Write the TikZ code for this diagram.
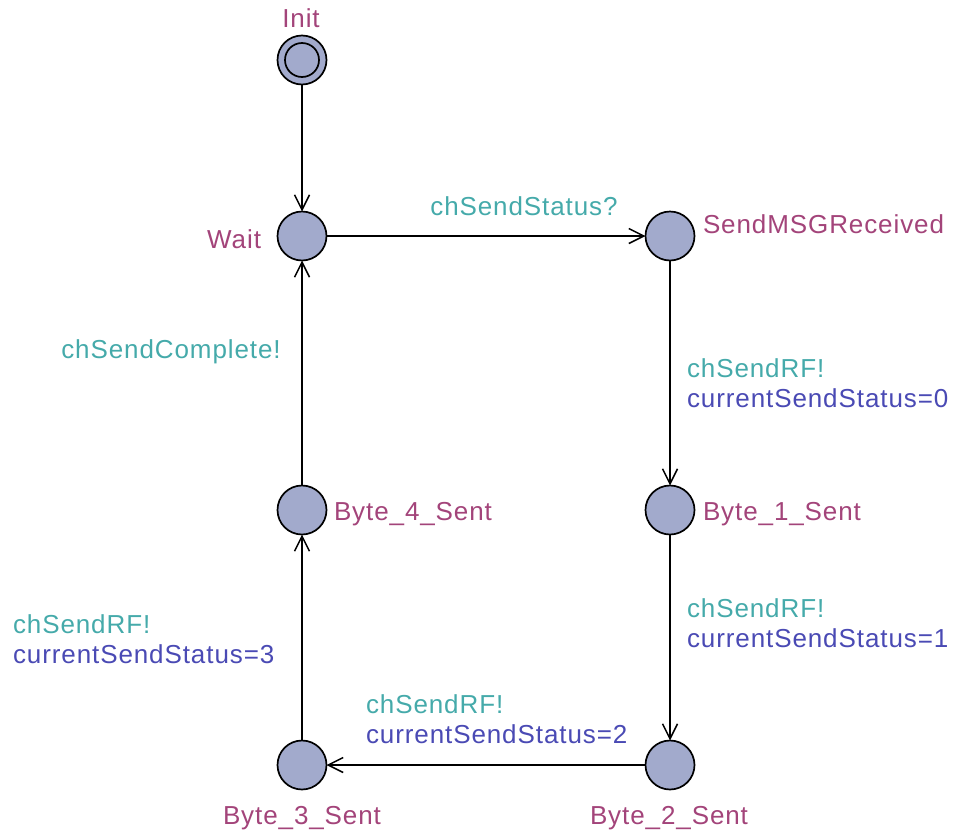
\documentclass[tikz,border=0pt]{standalone}
\usepackage{fontspec}
\setmainfont{Liberation Sans}
\usetikzlibrary{arrows.meta}
\definecolor{locname}{HTML}{A3447A}
\definecolor{syncol}{HTML}{45AAAA}
\definecolor{assigncol}{HTML}{4A4AB4}
\definecolor{locfill}{HTML}{A2AACC}
\newfontfamily\lblfont[LetterSpace=3.5]{Liberation Sans}
\begin{document}
\begin{tikzpicture}[x=1pt,y=-1pt,
  loc/.style={circle,draw=black,line width=1.7pt,fill=locfill,minimum size=49pt,inner sep=0pt,outer sep=0pt},
  initloc/.style={loc,path picture={\draw[line width=1.7pt] (path picture bounding box.center) circle (17pt);}},
  edge/.style={line width=1.6pt,-{Straight Barb[length=15pt,width=15pt,line width=1.5pt]}},
  txt/.style={inner sep=0pt,outer sep=0pt,font=\lblfont\fontsize{26}{30}\selectfont},
  lname/.style={txt,text=locname},
  sync/.style={txt,text=syncol},
  assign/.style={txt,text=assigncol}]
\useasboundingbox (0,0) rectangle (953,833);

% locations
\node[initloc] (init) at (302,60) {};
\node[loc] (wait) at (302,236) {};
\node[loc] (smr)  at (670,236) {};
\node[loc] (b4)   at (302,510) {};
\node[loc] (b1)   at (670,510) {};
\node[loc] (b3)   at (302,765) {};
\node[loc] (b2)   at (670,765) {};

% location names
\node[lname,anchor=base] (ninit) at (301,27) {Init};
\node[lname,anchor=base east] (nwait) at (261,248) {Wait};
\node[lname,anchor=base west] (nsmr) at (703,233) {SendMSGReceived};
\node[lname,anchor=base west] (nb4) at (334,520) {Byte\_4\_Sent};
\node[lname,anchor=base west] (nb1) at (703,520) {Byte\_1\_Sent};
\node[lname,anchor=base] (nb3) at (302,824) {Byte\_3\_Sent};
\node[lname,anchor=base] (nb2) at (669,824) {Byte\_2\_Sent};

% transitions
\draw[edge] (init) -- (wait);
\draw[edge] (wait) -- (smr);
\draw[edge] (smr) -- (b1);
\draw[edge] (b1) -- (b2);
\draw[edge] (b2) -- (b3);
\draw[edge] (b3) -- (b4);
\draw[edge] (b4) -- (wait);

% transition labels
\node[sync,anchor=base] (l1) at (524,215) {chSendStatus?};
\node[sync,anchor=base] (l7) at (171,358) {chSendComplete!};
\node[sync,anchor=base west] (l2s) at (687,377) {chSendRF!};
\node[assign,anchor=base west] (l2a) at (687,407) {currentSendStatus=0};
\node[sync,anchor=base west] (l3s) at (687,617) {chSendRF!};
\node[assign,anchor=base west] (l3a) at (687,647) {currentSendStatus=1};
\node[sync,anchor=base west] (l4s) at (366,713) {chSendRF!};
\node[assign,anchor=base west] (l4a) at (366,743) {currentSendStatus=2};
\node[sync,anchor=base west] (l5s) at (13,633) {chSendRF!};
\node[assign,anchor=base west] (l5a) at (13,663) {currentSendStatus=3};
\end{tikzpicture}
\end{document}
